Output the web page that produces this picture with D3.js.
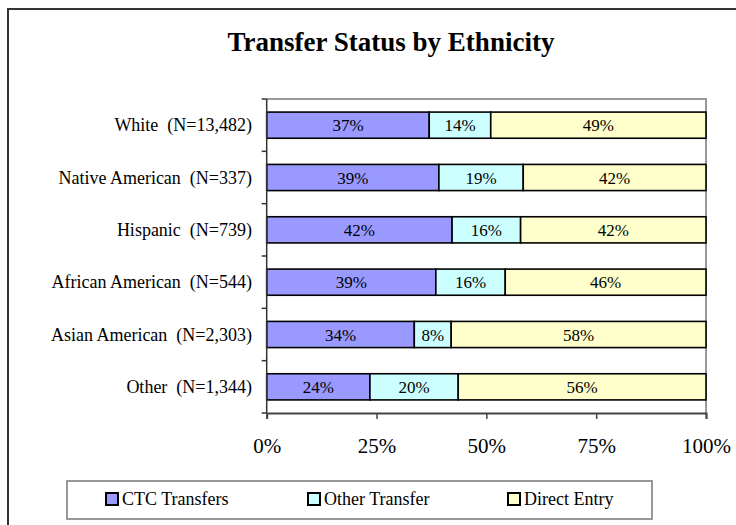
<!DOCTYPE html>
<html>
<head>
<meta charset="utf-8">
<script src="https://cdnjs.cloudflare.com/ajax/libs/d3/7.8.5/d3.min.js"></script>
<style>
  html, body { margin: 0; padding: 0; background: #fff; overflow: hidden; }
  svg { display: block; }
</style>
</head>
<body>
<div class="container"></div>
<script>

var categories = ["White  (N=13,482)", "Native American  (N=337)", "Hispanic  (N=739)",
                  "African American  (N=544)", "Asian American  (N=2,303)", "Other  (N=1,344)"];
var seriesNames = ["CTC Transfers", "Other Transfer", "Direct Entry"];
var seriesColors = ["#9999ff", "#ccffff", "#ffffcc"];
var ctcValues = [37, 39.2, 42.2, 38.5, 33.6, 23.5];
var otherValues = [14, 19.2, 15.6, 15.8, 8.4, 20.1];
var directValues = [49, 41.6, 42.2, 45.7, 58, 56.4];
var xTicks = [0, 25, 50, 75, 100];

var serif = "'Liberation Serif', 'Times New Roman', serif";

var width = 736,
    height = 525,
    plot = {left: 266.7, right: 706, top: 99, bottom: 413};

var svg = d3.select("div.container").append("svg")
    .attr("width", width)
    .attr("height", height)
    .style("font-family", serif);

// outer frame: only the left and top edges fall inside the picture
svg.append("path")
    .attr("d", "M8," + height + "V9H" + width)
    .attr("fill", "none")
    .attr("stroke", "#333")
    .attr("stroke-width", 2);

svg.append("text")
    .attr("x", 391).attr("y", 51)
    .attr("text-anchor", "middle")
    .style("font-family", serif)
    .style("font-size", "27px")
    .style("font-weight", "bold")
    .text("Transfer Status by Ethnicity");

var x = d3.scaleLinear().domain([0, 100]).range([plot.left, plot.right]);
var y = d3.scaleBand().domain(categories)
    .range([plot.top, plot.bottom])
    .paddingInner(0.5).paddingOuter(0.25);

var rows = categories.map(function(c, i) {
    return {cat: c, CTC: ctcValues[i], Other: otherValues[i], Direct: directValues[i]};
});
var stacked = d3.stack().keys(["CTC", "Other", "Direct"])(rows);

// plot area: grey top and right
svg.append("path")
    .attr("d", "M" + plot.left + "," + plot.top + "H" + plot.right + "V" + plot.bottom)
    .attr("fill", "none")
    .attr("stroke", "#999")
    .attr("stroke-width", 2);

var groups = svg.selectAll(".series")
    .data(stacked)
    .enter().append("g")
    .attr("class", "series");

groups.selectAll("rect")
    .data(function(d) { return d; })
    .enter().append("rect")
    .attr("x", function(d) { return x(d[0]); })
    .attr("y", function(d) { return y(d.data.cat); })
    .attr("width", function(d) { return x(d[1]) - x(d[0]); })
    .attr("height", y.bandwidth())
    .attr("fill", function() { return seriesColors[d3.select(this.parentNode).datum().index]; })
    .attr("stroke", "#000")
    .attr("stroke-width", 1.6);

groups.selectAll("text")
    .data(function(d) { return d; })
    .enter().append("text")
    .attr("x", function(d) { return (x(d[0]) + x(d[1])) / 2; })
    .attr("y", function(d) { return y(d.data.cat) + y.bandwidth() / 2 + 6; })
    .attr("text-anchor", "middle")
    .attr("fill", "#000")
    .style("font-family", serif)
    .style("font-size", "17px")
    .text(function(d) { return Math.round(d[1] - d[0]) + "%"; });

// y axis with ticks at category boundaries
var step = y.step();
var yAxis = svg.append("g");
yAxis.append("line")
    .attr("x1", plot.left).attr("x2", plot.left)
    .attr("y1", plot.top).attr("y2", plot.bottom)
    .attr("stroke", "#333").attr("stroke-width", 1.5);
yAxis.selectAll(".ytick")
    .data(d3.range(categories.length + 1))
    .enter().append("line")
    .attr("x1", plot.left - 5).attr("x2", plot.left)
    .attr("y1", function(i) { return plot.top + i * step; })
    .attr("y2", function(i) { return plot.top + i * step; })
    .attr("stroke", "#333").attr("stroke-width", 1.5);
yAxis.selectAll(".ylab")
    .data(categories)
    .enter().append("text")
    .attr("x", 252)
    .attr("y", function(d) { return y(d) + y.bandwidth() / 2 + 6; })
    .attr("text-anchor", "end")
    .attr("fill", "#000")
    .style("font-family", serif)
    .style("font-size", "18px")
    .style("white-space", "pre")
    .text(function(d) { return d; });

// x axis
var xAxis = svg.append("g")
    .attr("transform", "translate(0," + plot.bottom + ")")
    .call(d3.axisBottom(x).tickValues(xTicks).tickSize(6).tickPadding(19)
        .tickFormat(function(d) { return d + "%"; }));
xAxis.select(".domain").attr("stroke", "#444").attr("stroke-width", 2);
xAxis.selectAll(".tick line").attr("stroke", "#444").attr("stroke-width", 1.5);
xAxis.selectAll(".tick text")
    .style("font-size", "21px")
    .style("font-family", serif)
    .attr("fill", "#000");

// legend
var legend = svg.append("g");
legend.append("rect")
    .attr("x", 67).attr("y", 481)
    .attr("width", 585).attr("height", 38)
    .attr("fill", "#fff")
    .attr("stroke", "#777").attr("stroke-width", 1.5);
var legendX = [106, 308, 508];
var item = legend.selectAll(".item")
    .data(seriesNames)
    .enter().append("g")
    .attr("transform", function(d, i) { return "translate(" + legendX[i] + ",493)"; });
item.append("rect")
    .attr("width", 12).attr("height", 12)
    .attr("fill", function(d, i) { return seriesColors[i]; })
    .attr("stroke", "#000").attr("stroke-width", 2);
item.append("text")
    .attr("x", 16).attr("y", 12)
    .attr("fill", "#000")
    .style("font-family", serif)
    .style("font-size", "18px")
    .text(function(d) { return d; });

</script>
</body>
</html>
